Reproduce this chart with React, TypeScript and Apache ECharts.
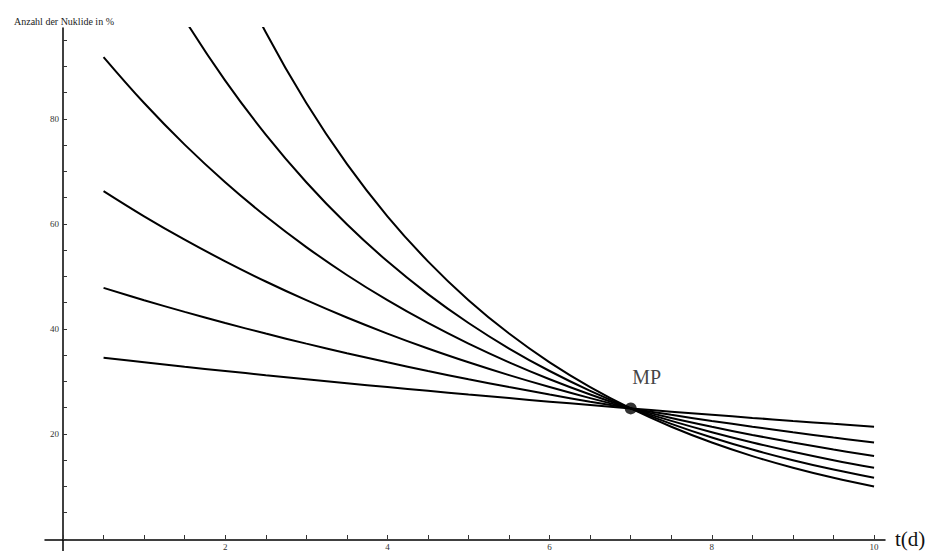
import React, { useEffect, useRef } from "react";
import * as echarts from "echarts";

const times = [0.5, 1, 1.5, 2, 2.5, 3, 3.5, 4, 4.5, 5, 5.5, 6, 6.5, 7, 7.5, 8, 8.5, 9, 9.5, 10];

const curve1 = [34.6, 33.75, 32.91, 32.1, 31.31, 30.54, 29.78, 29.05, 28.33, 27.63, 26.95, 26.28, 25.63, 25, 24.38, 23.78, 23.19, 22.62, 22.06, 21.52];
const curve2 = [47.89, 45.55, 43.33, 41.22, 39.21, 37.3, 35.48, 33.75, 32.1, 30.54, 29.05, 27.63, 26.28, 25, 23.78, 22.62, 21.52, 20.47, 19.47, 18.52];
const curve3 = [66.28, 61.49, 57.05, 52.93, 49.1, 45.55, 42.26, 39.21, 36.37, 33.75, 31.31, 29.05, 26.95, 25, 23.19, 21.52, 19.96, 18.52, 17.18, 15.94];
const curve4 = [91.73, 83.0, 75.1, 67.96, 61.49, 55.64, 50.34, 45.55, 41.22, 37.3, 33.75, 30.54, 27.63, 25, 22.62, 20.47, 18.52, 16.76, 15.16, 13.72];
const curve5 = [null, 112.04, 98.88, 87.26, 77.01, 67.96, 59.97, 52.93, 46.71, 41.22, 36.37, 32.1, 28.33, 25, 22.06, 19.47, 17.18, 15.16, 13.38, 11.81];
const curve6 = [null, null, null, 112.04, 96.44, 83.0, 71.44, 61.49, 52.93, 45.55, 39.21, 33.75, 29.05, 25, 21.52, 18.52, 15.94, 13.72, 11.81, 10.16];

const curves = [curve1, curve2, curve3, curve4, curve5, curve6];

const meetingPoint = [7, 25];
const meetingLabel = "MP";

const xLabels = [2, 4, 6, 8, 10];
const yLabels = [20, 40, 60, 80];

const yTitle = "Anzahl der Nuklide in %";
const xTitle = "t(d)";

export default function App() {
  const ref = useRef<HTMLDivElement>(null);

  useEffect(() => {
    if (!ref.current) return;
    const chart = echarts.init(ref.current, null, { renderer: "svg" });
    const serif = "Liberation Serif";

    const lineSeries = curves.map((c) => ({
      type: "line",
      xAxisIndex: 0,
      yAxisIndex: 0,
      data: times.map((t, i) => (c[i] == null ? [t, null] : [t, c[i]])),
      smooth: 0.4,
      showSymbol: false,
      symbol: "none",
      connectNulls: false,
      clip: true,
      lineStyle: { color: "#000", width: 2 },
      silent: true,
    }));

    chart.setOption({
      animation: false,
      backgroundColor: "#fff",
      title: {
        text: yTitle,
        left: 9,
        top: 11,
        textStyle: { fontFamily: serif, fontSize: 10, fontWeight: "normal", color: "#222" },
      },
      graphic: [
        {
          type: "text",
          left: 895,
          top: 528,
          style: { text: xTitle, font: `21px "${serif}"`, fill: "#111" },
        },
      ],
      grid: [
        { left: 45, right: 42, top: 28, bottom: 0 },
        { left: 63, right: 53, top: 40, bottom: 11 },
      ],
      xAxis: [
        {
          type: "value",
          gridIndex: 0,
          min: -0.222,
          max: 10.135,
          axisLine: { show: true, onZero: true, lineStyle: { color: "#000", width: 1.5 } },
          axisTick: { show: false },
          axisLabel: { show: false },
          splitLine: { show: false },
        },
        {
          type: "value",
          gridIndex: 1,
          min: 0,
          max: 10,
          interval: 0.5,
          axisLine: { show: false },
          axisTick: { show: true, inside: true, length: 4, lineStyle: { color: "#333", width: 1 } },
          axisLabel: {
            show: true,
            margin: 3,
            fontFamily: serif,
            fontSize: 9,
            color: "#333",
            formatter: (v: number) => (xLabels.includes(v) ? String(v) : ""),
          },
          splitLine: { show: false },
        },
      ],
      yAxis: [
        {
          type: "value",
          gridIndex: 0,
          min: -2.089,
          max: 97.25,
          axisLine: { show: true, onZero: true, lineStyle: { color: "#000", width: 1.5 } },
          axisTick: { show: false },
          axisLabel: { show: false },
          splitLine: { show: false },
        },
        {
          type: "value",
          gridIndex: 1,
          min: 0,
          max: 95,
          interval: 5,
          axisLine: { show: false },
          axisTick: { show: true, inside: true, length: 4, lineStyle: { color: "#333", width: 1 } },
          axisLabel: {
            show: true,
            margin: 4,
            fontFamily: serif,
            fontSize: 9,
            color: "#333",
            formatter: (v: number) => (yLabels.includes(v) ? String(v) : ""),
          },
          splitLine: { show: false },
        },
      ],
      series: [
        ...lineSeries,
        {
          type: "scatter",
          xAxisIndex: 0,
          yAxisIndex: 0,
          data: [meetingPoint],
          symbol: "circle",
          symbolSize: 12,
          itemStyle: { color: "#000" },
          silent: true,
          label: {
            show: true,
            formatter: meetingLabel,
            position: "top",
            offset: [16, -10],
            fontFamily: serif,
            fontSize: 20,
            color: "#111",
          },
          z: 5,
        },
      ],
    });

    return () => chart.dispose();
  }, []);

  return (
    <div
      ref={ref}
      style={{ position: "fixed", left: 0, top: 0, width: 927, height: 551 }}
    />
  );
}
